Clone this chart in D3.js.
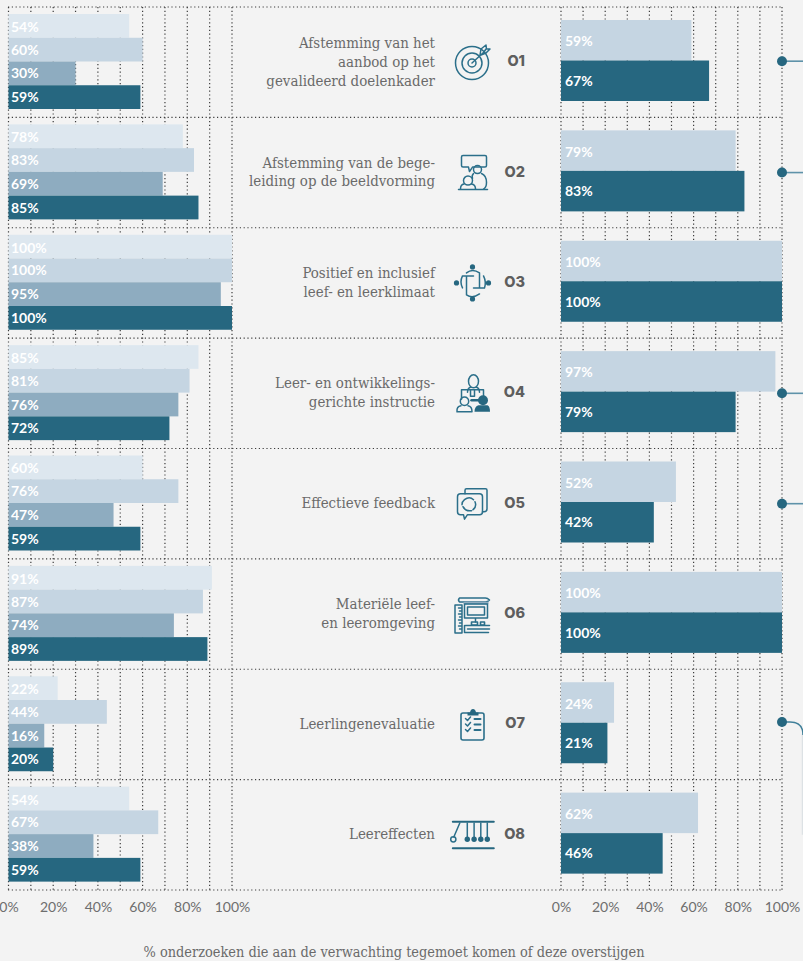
<!DOCTYPE html>
<html><head><meta charset="utf-8">
<script src="https://cdnjs.cloudflare.com/ajax/libs/d3/7.8.5/d3.min.js"></script>
<style>
html,body{margin:0;padding:0;background:#f3f3f3}
svg{display:block}
.lab{font-family:"DejaVu Serif Condensed","DejaVu Serif",serif;font-size:14.9px;fill:#6a6a6a}
.ttl{font-family:"DejaVu Serif Condensed","DejaVu Serif",serif;font-size:14.4px;fill:#6a6a6a}
.val{font-family:Lato,sans-serif;font-weight:700;font-size:14px;fill:#fff}
.code{font-family:Inter,sans-serif;font-weight:800;font-size:14.5px;fill:#5e5e5e}
.axis text{font-family:Lato,sans-serif;font-size:14px;fill:#6e6e6e}
.grid{stroke:#3c3c3c;stroke-width:1.2;stroke-dasharray:1.2 2.6;fill:none}
.ic{fill:none;stroke:#2b6f8a;stroke-width:1.5;stroke-linecap:round;stroke-linejoin:round}
.fl{fill:#266780;stroke:none}
</style></head><body>
<svg id="c" width="803" height="961"></svg>
<script>
const codes=["O1","O2","O3","O4","O5","O6","O7","O8"];
const labels=[
 ["Afstemming van het","aanbod op het","gevalideerd doelenkader"],
 ["Afstemming van de bege-","leiding op de beeldvorming"],
 ["Positief en inclusief","leef- en leerklimaat"],
 ["Leer- en ontwikkelings-","gerichte instructie"],
 ["Effectieve feedback"],
 ["Materiële leef-","en leeromgeving"],
 ["Leerlingenevaluatie"],
 ["Leereffecten"]];
const leftSeriesA=[54,78,100,85,60,91,22,54];
const leftSeriesB=[60,83,100,81,76,87,44,67];
const leftSeriesC=[30,69,95,76,47,74,16,38];
const leftSeriesD=[59,85,100,72,59,89,20,59];
const rightSeriesA=[59,79,100,97,52,100,24,62];
const rightSeriesB=[67,83,100,79,42,100,21,46];
const connected=["O1","O2","O4","O5"];
const tickValues=[0,20,40,60,80,100];
const axisTitle="% onderzoeken die aan de verwachting tegemoet komen of deze overstijgen";

const svg=d3.select("#c");
const xL=d3.scaleLinear().domain([0,100]).range([8.5,232]);
const xR=d3.scaleLinear().domain([0,100]).range([561,782]);
const y=d3.scaleBand().domain(codes).range([7,890]);
const innerL=d3.scaleBand().domain([0,1,2,3]).range([7,102]);
const innerR=d3.scaleBand().domain([0,1]).range([13,94]);
const colL=d3.scaleOrdinal([0,1,2,3],["#dde7ef","#c5d5e2","#8eacc0","#266780"]);
const colR=d3.scaleOrdinal([0,1],["#c5d5e2","#266780"]);

// grid
const grid=svg.append("g");
[xL,xR].forEach(x=>{
  grid.selectAll(null).data(x.ticks(10)).join("line").attr("class","grid")
    .attr("x1",d=>x(d)).attr("x2",d=>x(d)).attr("y1",7).attr("y2",890);
});
grid.selectAll(null).data([...codes.map(c=>y(c)),890]).join("line").attr("class","grid")
  .attr("x1",8).attr("x2",782).attr("y1",d=>d).attr("y2",d=>d);

// bars
function bars(series,x,inner,col,tx){
  series.forEach((vals,s)=>{
    const g=svg.append("g");
    g.selectAll("rect").data(codes).join("rect")
      .attr("x",x(0)).attr("y",c=>y(c)+inner(s))
      .attr("width",(c,i)=>x(vals[i])-x(0)).attr("height",inner.bandwidth()).attr("fill",col(s));
    g.selectAll("text").data(codes).join("text").attr("class","val")
      .attr("x",tx).attr("y",c=>y(c)+inner(s)+inner.bandwidth()/2+(s===0?6:5))
      .text((c,i)=>vals[i]+"%");
  });
}
bars([leftSeriesA,leftSeriesB,leftSeriesC,leftSeriesD],xL,innerL,colL,11);
bars([rightSeriesA,rightSeriesB],xR,innerR,colR,565);

// axes
const fmt=d=>d+"%";
[xL,xR].forEach(x=>{
  const a=svg.append("g").attr("class","axis").attr("transform","translate(0,899)")
    .call(d3.axisBottom(x).tickValues(tickValues).tickFormat(fmt).tickSize(0));
  a.select(".domain").remove();
});
svg.append("text").attr("class","ttl").attr("x",394).attr("y",957).attr("text-anchor","middle").text(axisTitle);

// labels
const mid=c=>y(c)+y.bandwidth()/2;
codes.forEach((c,i)=>{
  const L=labels[i],lh=c==="O2"?17.5:19;
  L.forEach((t,j)=>svg.append("text").attr("class","lab").attr("x",435).attr("text-anchor","end")
    .attr("y",mid(c)+(j-(L.length-1)/2)*lh+4.5).text(t));
  svg.append("text").attr("class","code").attr("x",525).attr("text-anchor","end").attr("y",mid(c)+4).text(c);
});

// connectors
const conn=svg.append("g");
connected.forEach(c=>{
  const yy=mid(c)+(c==="O1"?-1:0);
  conn.append("line").attr("x1",782).attr("x2",803).attr("y1",yy).attr("y2",yy).attr("stroke","#5e92a9").attr("stroke-width",1.6);
  conn.append("circle").attr("cx",782).attr("cy",yy).attr("r",5).attr("fill","#266780");
});
const y7=mid("O7")-2.5;
conn.append("line").attr("x1",802.5).attr("x2",802.5).attr("y1",y7+12).attr("y2",mid("O8")).attr("stroke","#dde2e5").attr("stroke-width",1.5);
conn.append("path").attr("d",`M782 ${y7}H790Q803 ${y7} 803 ${y7+13}`).attr("fill","none").attr("stroke","#3f7f99").attr("stroke-width",1.5);
conn.append("circle").attr("cx",782).attr("cy",y7).attr("r",5).attr("fill","#266780");

// icons
const icons={
 O1(g){
  g.attr("transform",`translate(472,63)`);
  g.append("circle").attr("r",16.5);
  g.append("circle").attr("r",10);
  g.append("circle").attr("r",4);
  g.append("path").attr("d","M0 0L12 -11M8 -8L9 -14L14 -18L14.5 -14L18 -14L14 -10L9 -8M12 -11L14 -14");
 },
 O2(g){
  g.append("path").attr("d","M-9.5 -17H12.5Q14 -17 14 -15.5V-7Q14 -5.5 12.5 -5.5H0L-3 -1L-4 -5.5H-9.5Q-11 -5.5 -11 -7V-15.5Q-11 -17 -9.5 -17Z");
  g.append("circle").attr("cx",5).attr("cy",-3).attr("r",4);
  g.append("path").attr("d","M1 1Q-1 3 0 6M9 1Q14 3 14 10Q14 15 11 16.5");
  g.append("circle").attr("cx",-4.5).attr("cy",8).attr("r",4.5);
  g.append("path").attr("d","M-12 16.5Q-12 12 -8.5 11.5M-1 11.5Q3 12 3 16.5");
  g.append("path").attr("d","M-14 17H15");
 },
 O3(g){
  g.append("path").attr("d","M-6 -10Q0 -15 7 -10V5M1 5H12M11 -7Q14 -1 12 5M-10 -7H1M-6 -7V12Q0 16 7 11M-10 -7Q-13 -1 -10 5");
  [0,90,180,270].forEach(a=>{
   g.append("circle").attr("class","fl").attr("transform",`rotate(${a})`).attr("cx",0).attr("cy",-16).attr("r",2.6);
  });
 },
 O4(g){
  g.append("ellipse").attr("cx",1).attr("cy",-12).attr("rx",5).attr("ry",6.5);
  g.append("path").attr("d","M-5 -1Q-5 -5 -2 -6M4 -6Q7 -5 7 -1");
  g.append("path").attr("d","M-11 6V-3.5H11V5M-2 -3.5V3H2V-3.5");
  g.append("circle").attr("cx",-8).attr("cy",8).attr("r",4.2);
  g.append("path").attr("d","M-15.5 18.5Q-16 13 -11.5 12.5M-4.5 12.5Q-0.5 13 -0.5 18.5H-15.5");
  g.append("circle").attr("class","fl").attr("cx",10.5).attr("cy",7).attr("r",5);
  g.append("path").attr("class","fl").attr("d","M2 18.5Q2 13 6 12H15Q17.5 13 17.5 18.5Z");
  g.append("path").attr("d","M-1 7H7").attr("stroke-width",2.5).attr("stroke","#266780");
 },
 O5(g){
  g.append("path").attr("d","M-7.5 -10V-13.5Q-7.5 -15 -6 -15H13Q14.5 -15 14.5 -13.5V5Q14.5 8 11.5 8H10");
  g.append("path").attr("d","M-12 -10H7Q10 -10 10 -7V8Q10 11 7 11H-5L-8 15.5L-9 11H-12Q-15 11 -15 8V-7Q-15 -10 -12 -10Z");
  g.append("path").attr("d","M-8 -4Q-3 -8 1 -4M2.5 -2Q4.5 3 0.5 6M-1 7Q-7 8 -9.5 3M-10.5 1Q-10.5 -2 -8 -4");
 },
 O6(g){
  g.append("path").attr("d","M-13 -12H13M-13 -16H13Q15 -16 17 -14Q15 -12 13 -12M-13 -16Q-15 -14 -13 -12");
  g.append("path").attr("d","M-17.5 -9H-10.5V19H-17.5ZM-14 -6H-10.5M-13 -3H-10.5M-14 0H-10.5M-13 3H-10.5M-14 6H-10.5M-13 9H-10.5M-14 12H-10.5M-13 15H-10.5");
  g.append("path").attr("d","M-8 -11H15").attr("stroke-width",2.4).attr("stroke","#8eacc0");
  g.append("path").attr("d","M-8 -10H15V4H-8ZM-5 -7H12V1H-5ZM3 4V8");
  g.append("path").attr("d","M-1 8H5V11H-1ZM8 8H12V11H8Z").attr("stroke-width",1.6);
  g.append("path").attr("d","M-7 11.5H17M-8 11.5V18.5H16M-5 15H17");
 },
 O7(g){
  g.append("rect").attr("x",-11.5).attr("y",-11.5).attr("width",23).attr("height",27).attr("rx",2).attr("stroke-width",1.6);
  g.append("path").attr("class","fl").attr("d","M-5 -9V-12H-2.5Q-2 -15.5 0.5 -15.5Q3 -15.5 3.5 -12H6V-9Z");
  [-6,-0.5,5].forEach(v=>{
   g.append("path").attr("d",`M-7 ${v}L-5 ${v+2}L-2 ${v-1.5}`);
   g.append("path").attr("d",`M2 ${v+.5}H8`).attr("stroke-width",2);
  });
 },
 O8(g){
  g.attr("transform",`translate(473.3,835)`);
  g.append("path").attr("d","M-20.5 -13.3H20.5M-20.5 13.3H20.5").attr("stroke-width",2).attr("stroke","#266780");
  g.append("path").attr("d","M-13.5 -12L-19.5 2");
  g.append("circle").attr("cx",-20).attr("cy",4.3).attr("r",2.6);
  [-6,0.8,7.5,14].forEach(v=>{
   g.append("path").attr("d",`M${v} -12V3`);
   g.append("circle").attr("class","fl").attr("cx",v).attr("cy",4.3).attr("r",2.7);
  });
 }
};
codes.forEach(c=>{
 const g=svg.append("g").attr("class","ic").attr("transform",`translate(472.5,${mid(c)})`);
 icons[c](g);
});
</script>
</body></html>
